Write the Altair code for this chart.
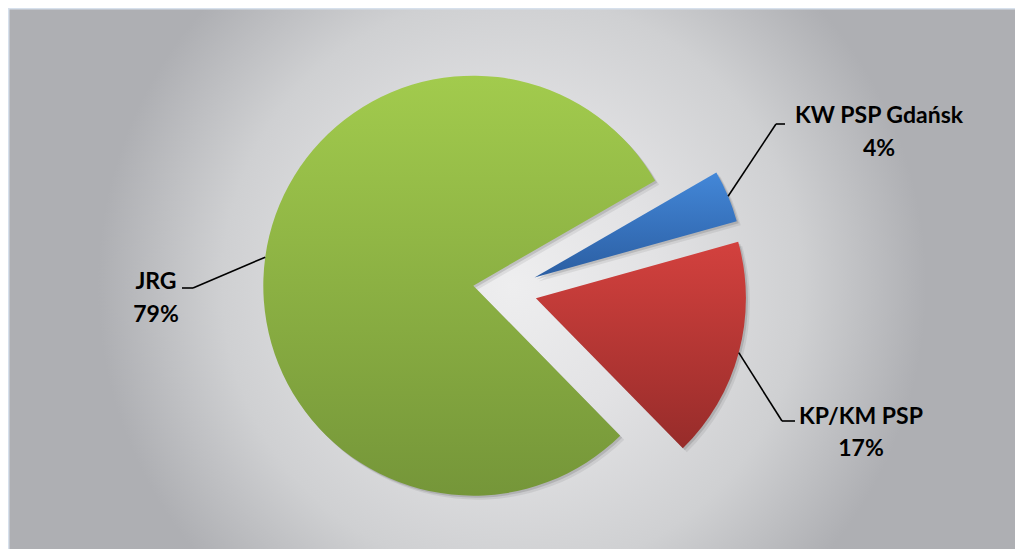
import math
import altair as alt
import pandas as pd

# ---- data ----
categories = ["KW PSP Gdańsk", "KP/KM PSP", "JRG"]
values = [4, 17, 79]

# ---- layout (chart-local pixels) ----
W, H = 1007, 541
CX, CY = 497, 282
R = 210
EXPLODE = 32
START = math.pi / 3  # first slice starts at 60° clockwise from 12 o'clock

label_x = [871, 853, 148]
name_y = [115, 416, 281]
pct_y = [148, 448, 314]
elbow_x = [768, 774, 185]
elbow_y = [116, 413, 280]
end_x = [777, 787, 174]
end_y = [116, 413, 280]

slice_grad = {
    "KW PSP Gdańsk": ("#4387d8", "#2b5ea2"),
    "KP/KM PSP": ("#d3413e", "#972c2a"),
    "JRG": ("#a2cb4d", "#759639"),
}

df = pd.DataFrame({
    "category": categories,
    "value": values,
    "order": list(range(len(categories))),
    "label_x": label_x, "name_y": name_y, "pct_y": pct_y,
    "elbow_x": elbow_x, "elbow_y": elbow_y, "end_x": end_x, "end_y": end_y,
})

xs = alt.Scale(domain=[0, W], range=[0, W], zero=False, nice=False)
ys = alt.Scale(domain=[0, H], range=[0, H], zero=False, nice=False)
ts = alt.Scale(domain=[0, 100], range=[START, START + 2 * math.pi])

base = (
    alt.Chart(df)
    .transform_window(cum="sum(value)", sort=[alt.SortField("order")], frame=[None, 0])
    .transform_joinaggregate(total="sum(value)")
    .transform_calculate(
        p0="100 * (datum.cum - datum.value) / datum.total",
        p1="100 * datum.cum / datum.total",
        pct="datum.value + '%'",
    )
    .transform_calculate(mid=f"{START} + PI * (datum.p0 + datum.p1) / 100")
    .transform_calculate(
        cx=f"{CX} + {EXPLODE} * sin(datum.mid)",
        cy=f"{CY} - {EXPLODE} * cos(datum.mid)",
    )
    .transform_calculate(
        lx=f"datum.cx + {R} * sin(datum.mid)",
        ly=f"datum.cy - {R} * cos(datum.mid)",
        sx1="datum.cx + 2", sy1="datum.cy + 2",
        sx2="datum.cx + 4", sy2="datum.cy + 4",
    )
)

theta_enc = dict(
    theta=alt.Theta("p0:Q", scale=ts, stack=None),
    theta2="p1:Q",
)

# background: square rect (clipped) so radial gradient is circular
one = pd.DataFrame({"a": [0]})
gcx, gcy = 504, 277
bg = alt.Chart(one).mark_rect(
    clip=True,
    color=alt.RadialGradient(
        gradient="radial", x1=0.5, y1=0.5, r1=0, x2=0.5, y2=0.5, r2=0.41,
        stops=[
            alt.GradientStop(offset=0, color="#eeeeef"),
            alt.GradientStop(offset=0.35, color="#e2e2e4"),
            alt.GradientStop(offset=0.7, color="#cfd0d2"),
            alt.GradientStop(offset=1, color="#aeafb3"),
        ],
    ),
).encode(
    x=alt.value(gcx - 505), x2=alt.value(gcx + 505),
    y=alt.value(gcy - 505), y2=alt.value(gcy + 505),
)
border = alt.Chart(one).mark_rect(
    clip=True, fillOpacity=0, stroke="#d6e0ec", strokeWidth=3
).encode(x=alt.value(0), x2=alt.value(W + 4), y=alt.value(0), y2=alt.value(H + 4))

shadow2 = base.mark_arc(radius=R, color="#000000", opacity=0.07).encode(
    x=alt.X("sx2:Q", scale=xs, axis=None), y=alt.Y("sy2:Q", scale=ys, axis=None), **theta_enc
)
shadow1 = base.mark_arc(radius=R, color="#000000", opacity=0.12).encode(
    x=alt.X("sx1:Q", scale=xs, axis=None), y=alt.Y("sy1:Q", scale=ys, axis=None), **theta_enc
)

slices = []
for cat in categories:
    top, bottom = slice_grad[cat]
    slices.append(
        base.transform_filter(alt.datum.category == cat)
        .mark_arc(
            radius=R,
            color=alt.LinearGradient(
                gradient="linear", x1=0, y1=0, x2=0, y2=1,
                stops=[
                    alt.GradientStop(offset=0, color=top),
                    alt.GradientStop(offset=1, color=bottom),
                ],
            ),
        )
        .encode(
            x=alt.X("cx:Q", scale=xs, axis=None),
            y=alt.Y("cy:Q", scale=ys, axis=None),
            **theta_enc,
        )
    )

rule1 = base.mark_rule(color="#000000", strokeWidth=1.6).encode(
    x=alt.X("lx:Q", scale=xs, axis=None), y=alt.Y("ly:Q", scale=ys, axis=None),
    x2="elbow_x:Q", y2="elbow_y:Q",
)
rule2 = base.mark_rule(color="#000000", strokeWidth=1.6).encode(
    x=alt.X("elbow_x:Q", scale=xs, axis=None), y=alt.Y("elbow_y:Q", scale=ys, axis=None),
    x2="end_x:Q", y2="end_y:Q",
)

txt_style = dict(font="Lato", fontWeight="bold", fontSize=23, align="center",
                 baseline="alphabetic", color="#000000")
names = base.mark_text(**txt_style).encode(
    x=alt.X("label_x:Q", scale=xs, axis=None), y=alt.Y("name_y:Q", scale=ys, axis=None),
    text="category:N",
)
pcts = base.mark_text(**txt_style).encode(
    x=alt.X("label_x:Q", scale=xs, axis=None), y=alt.Y("pct_y:Q", scale=ys, axis=None),
    text="pct:N",
)

chart = alt.layer(bg, border, shadow2, shadow1, *slices, rule1, rule2, names, pcts).properties(
    width=W, height=H, padding=0, autosize="none", background="white"
).configure_view(stroke=None)

chart.save("out.html", embed_options={"renderer": "svg", "actions": False})
